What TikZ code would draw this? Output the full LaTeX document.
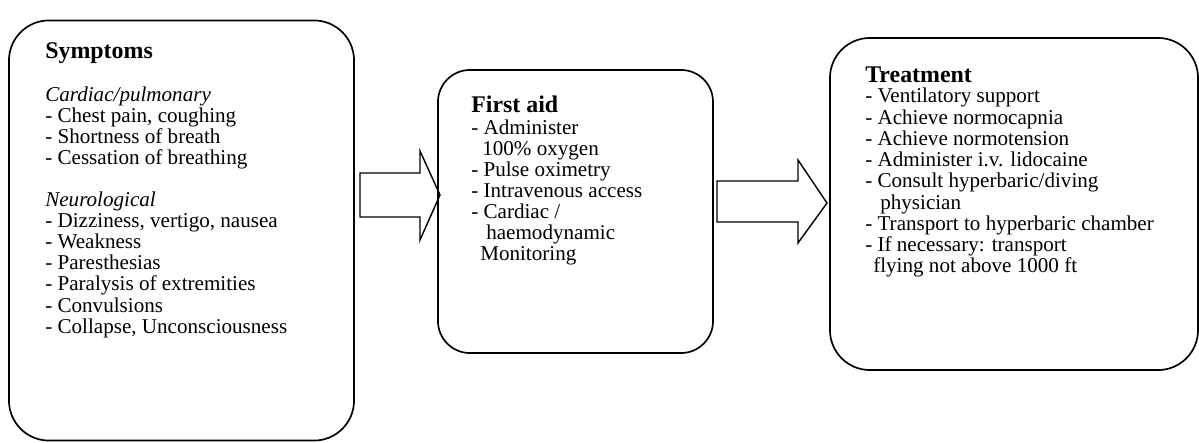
\documentclass[tikz,border=0pt]{standalone}
\usepackage{fontspec}
\setmainfont{Liberation Serif}

\begin{document}
\begin{tikzpicture}[
        x=0.025cm, y=-0.025cm,
        font=\fontsize{15}{15}\selectfont,
        stage_box/.style={
            draw,
            rectangle,
            line width=1.2pt,
            rounded corners=1cm
        },
        stage_text/.style={
            anchor=north west,
            align=left,
            inner sep=0pt
        },
        fat_arrow/.style={
            draw,
            line width=1pt,
            line join=miter
        }
    ]
        \def\headfont{\fontsize{17}{15}\selectfont\bfseries}
        \useasboundingbox (0,0) rectangle (1199,442);

        % the three stages
        \node[stage_box, minimum width=8.625cm, minimum height=10.5cm] (symptoms) at (181.5,230.5) {};
        \node[stage_box, rounded corners=0.8cm, minimum width=6.875cm, minimum height=7.075cm] (firstaid) at (575.5,211.5) {};
        \node[stage_box, minimum width=9.2cm, minimum height=8.3cm] (treatment) at (1014,204) {};

        \node[stage_text] (symptoms_text) at (45,42) {%
            {\headfont Symptoms}\\[15.6pt]
            \textit{Cardiac/pulmonary}\\
            - Chest pain, coughing\\
            - Shortness of breath\\
            - Cessation of breathing\\[15pt]
            \textit{Neurological}\\
            - Dizziness, vertigo, nausea\\
            - Weakness\\
            - Paresthesias\\
            - Paralysis of extremities\\
            - Convulsions\\
            - Collapse, Unconsciousness};

        \node[stage_text, font=\fontsize{15}{14.9}\selectfont] (firstaid_text) at (471,96) {%
            {\headfont First aid}\\[0.6pt]
            - Administer\\
            \hspace*{0.275cm}100\% oxygen\\
            - Pulse oximetry\\
            - Intravenous access\\
            - Cardiac /\\
            \hspace*{0.375cm}haemodynamic\\
            \hspace*{0.225cm}Monitoring};

        \node[stage_text, font=\fontsize{15}{15.1}\selectfont] (treatment_text) at (865,67) {%
            {\headfont Treatment}\\[-0.9pt]
            - Ventilatory support\\
            - Achieve normocapnia\\
            - Achieve normotension\\
            - Administer i.v. lidocaine\\
            - Consult hyperbaric/diving\\
            \hspace*{0.375cm}physician\\
            - Transport to hyperbaric chamber\\
            - If necessary: transport\\
            \hspace*{0.2cm}flying not above 1000 ft};

        % block arrows between the stages
        \draw[fat_arrow] (360,173) -- (420,173) -- (420,151) -- (440,195)
            -- (420,240) -- (420,217) -- (360,217) -- cycle;
        \draw[fat_arrow] (717,181) -- (798,181) -- (798,160) -- (827,203)
            -- (798,243) -- (798,222) -- (717,222) -- cycle;

    \end{tikzpicture}
\end{document}
